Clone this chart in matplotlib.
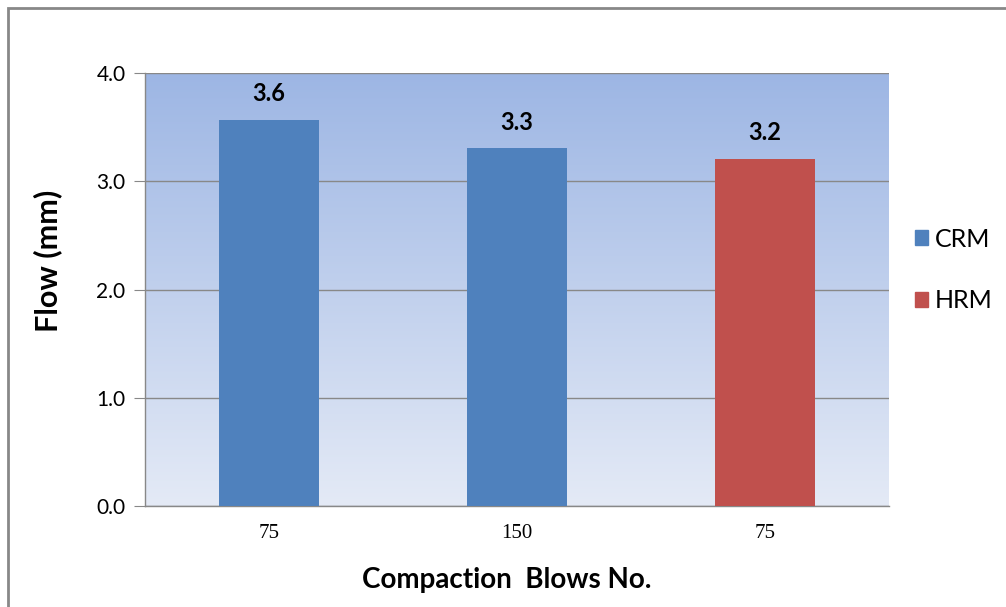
import matplotlib.pyplot as plt
import numpy as np
from matplotlib.patches import Patch, Rectangle
from matplotlib.colors import LinearSegmentedColormap

categories = ["75", "150", "75"]
values = [3.57, 3.31, 3.21]
groups = ["CRM", "CRM", "HRM"]
colors = {"CRM": "#4f81bd", "HRM": "#c0504d"}

fig = plt.figure(figsize=(10.06, 6.07), dpi=100)
ax = fig.add_axes([145 / 1006, 1 - 506 / 607, 744 / 1006, 433 / 607])

# gradient background of the plot area
cmap = LinearSegmentedColormap.from_list("bg", ["#e4eaf6", "#9db6e4"])
grad = np.linspace(0, 1, 256).reshape(-1, 1)
ax.imshow(grad, cmap=cmap, aspect="auto", origin="lower",
          extent=[-0.5, 2.5, 0, 4.0], zorder=0)

x = np.arange(len(categories))
bars = ax.bar(x, values, width=0.4, color=[colors[g] for g in groups], zorder=3)

for xi, v in zip(x, values):
    ax.text(xi, v + 0.13, f"{v:.1f}", ha="center", va="bottom",
            fontsize=17, fontweight="bold", family="Lato", zorder=4)

ax.set_xlim(-0.5, 2.5)
ax.set_ylim(0, 4.0)
ax.set_yticks([0, 1, 2, 3, 4])
ax.set_yticklabels([f"{t:.1f}" for t in [0, 1, 2, 3, 4]], family="Lato", fontsize=15)
ax.set_xticks(x)
ax.set_xticklabels(categories, family="Liberation Serif", fontsize=15)
ax.tick_params(axis="x", length=0, pad=13)
ax.tick_params(axis="y", length=8, color="#888888", pad=6)
ax.yaxis.grid(True, color="#888888", linewidth=1, zorder=1)
ax.set_axisbelow(False)
for s in ["top", "right"]:
    ax.spines[s].set_visible(False)
for s in ["left", "bottom"]:
    ax.spines[s].set_color("#888888")
    ax.spines[s].set_linewidth(1)

ax.set_ylabel("Flow (mm)", family="Lato", fontsize=22, fontweight="bold")
ax.yaxis.set_label_coords(-83 / 744, (506 - 261) / 433)
ax.set_xlabel("Compaction  Blows No.", family="Lato", fontsize=20, fontweight="bold")
ax.xaxis.set_label_coords((507 - 145) / 744, -(567 - 506) / 433)

handles = [Patch(color=colors["CRM"]), Patch(color=colors["HRM"])]
fig.legend(handles, ["CRM", "HRM"], loc="center left",
           bbox_to_anchor=(892 / 1006, 1 - 270 / 607), frameon=False,
           prop={"family": "Lato", "size": 18}, handlelength=0.55, handleheight=0.55,
           handletextpad=0.25, labelspacing=1.55)

fig.patches.append(Rectangle((8 / 1006, -0.1), 1.2, 1 - 8 / 607 + 0.1,
                             transform=fig.transFigure, fill=False,
                             edgecolor="#888888", linewidth=2))

fig.savefig("out.png", dpi=100)
